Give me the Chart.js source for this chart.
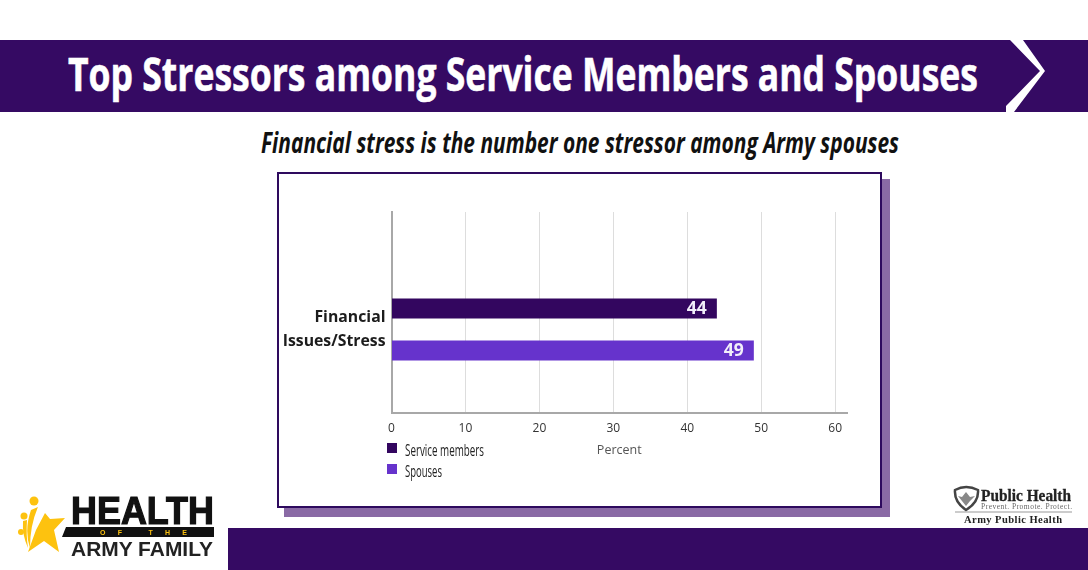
<!DOCTYPE html>
<html>
<head>
<meta charset="utf-8">
<title>Top Stressors among Service Members and Spouses</title>
<script src="https://cdn.jsdelivr.net/npm/chart.js@4/dist/chart.umd.min.js"></script>
<style>
  html, body { margin: 0; padding: 0; background: #fff; }
  #page { position: relative; width: 1088px; height: 570px; overflow: hidden; background: #fff; }
  #banner { position: absolute; left: 0; top: 40px; width: 1088px; height: 72px; background: #350a63; }
  #chevron { position: absolute; left: 0; top: 0; }
  h1 {
    position: absolute; left: 68px; top: 41px; margin: 0; white-space: nowrap;
    font: bold 47px "Open Sans", sans-serif; color: #fff; -webkit-text-stroke: 0.6px #fff;
    transform-origin: left top;
  }
  h2 {
    position: absolute; left: 261px; top: 123px; margin: 0; white-space: nowrap;
    font: italic bold 28px "Open Sans", sans-serif; color: #111;
    transform-origin: left top;
  }
  #shadow { position: absolute; left: 284px; top: 179px; width: 606px; height: 338px; background: #8a6aa5; }
  #card { position: absolute; left: 277px; top: 172px; width: 601px; height: 332px; background: #fff; border: 2px solid #2e0a5e; }
  #chartBox { position: absolute; left: 277px; top: 172px; width: 605px; height: 336px; }
  #legend { position: absolute; left: 387px; top: 440px; font: 15.5px "Open Sans", sans-serif; color: #222; }
  #legend div { position: relative; height: 20.5px; line-height: 20px; white-space: nowrap; }
  #legend span { position: absolute; left: 0; top: 3px; width: 10px; height: 10px; }
  #legend b { position: absolute; left: 18px; top: 0; font-weight: normal; transform-origin: left top; }
  #footer { position: absolute; left: 228px; top: 528px; width: 860px; height: 42px; background: #350a63; }
  #logos { position: absolute; left: 0; top: 0; }
</style>
</head>
<body>
<div id="page">
  <div id="banner"></div>
  <h1 id="title">Top Stressors among Service Members and Spouses</h1>
  <h2 id="subtitle">Financial stress is the number one stressor among Army spouses</h2>
  <div id="shadow"></div>
  <div id="card"></div>
  <div id="chartBox"><canvas id="stressChart"></canvas></div>
  <div id="legend"></div>
  <div id="footer"></div>
  <svg id="chevron" width="1088" height="570">
    <polygon points="1010,40 1023,40 1045,71 1014,112 1006,112 1006,106 1040,71" fill="#fff"/>
  </svg>
  <svg id="logos" width="1088" height="570">
    <!-- Health of the Army Family logo -->
    <polygon points="45,513 50,519 65,518 54,530 59,552 44,541 28,552 36,530" fill="#fdc20f"/>
    <path d="M38,507 Q30,525 30,548 Q24,530 31,510 Z" fill="#fdc20f"/>
    <path d="M27,520 Q26,535 28,548 Q22,535 23,521 Z" fill="#fdc20f"/>
    <circle cx="34" cy="501" r="4.5" fill="#fdc20f"/>
    <circle cx="24" cy="516" r="3.5" fill="#fdc20f"/>
    <circle cx="21" cy="532" r="3" fill="#fdc20f"/>
    <text x="71" y="524" font-family="Liberation Sans, Arial, sans-serif" font-weight="bold" font-size="38" textLength="143" lengthAdjust="spacingAndGlyphs" stroke="#111" stroke-width="1.2" fill="#111">HEALTH</text>
    <polygon points="66,527 214,527 214,537 62,537" fill="#111"/>
    <text x="100" y="535" font-family="Liberation Sans, Arial, sans-serif" font-weight="bold" font-size="7" textLength="87" lengthAdjust="spacing" fill="#fdc20f">OF THE</text>
    <text x="71" y="556" font-family="Liberation Sans, Arial, sans-serif" font-weight="bold" font-size="21" textLength="142" lengthAdjust="spacingAndGlyphs" fill="#222">ARMY FAMILY</text>
    <!-- Public Health logo -->
    <path d="M955,490 Q966,484 978,490 Q979,502 966,510 Q954,502 955,490 Z" fill="#fff" stroke="#444" stroke-width="2.5"/>
    <path d="M966,492 L970,497 L975,496 L970,501 L966,506 L962,501 L958,496 L962,497 Z" fill="#888"/>
    <text x="981" y="501" font-family="Liberation Serif, serif" font-weight="bold" font-size="17" textLength="90" lengthAdjust="spacingAndGlyphs" stroke="#222" stroke-width="0.3" fill="#222">Public Health</text>
    <text x="981" y="509" font-family="Liberation Serif, serif" font-size="7.5" textLength="91" lengthAdjust="spacing" fill="#666">Prevent. Promote. Protect.</text>
    <line x1="955" y1="512" x2="1072" y2="512" stroke="#999" stroke-width="1"/>
    <text x="964" y="523" font-family="Liberation Serif, serif" font-weight="bold" font-size="10.5" textLength="98" lengthAdjust="spacing" fill="#222">Army Public Health</text>
  </svg>
</div>

<script>
const categories = [["Financial", "Issues/Stress"]];
const seriesNames = ["Service members", "Spouses"];
const serviceMembers = [44];
const spouses = [49];
const seriesColors = ["#33065f", "#6633cc"];
const xTicks = [0, 10, 20, 30, 40, 50, 60];
const xAxisMax = 61.6;

// the original face is condensed, none is installed, so squeeze to the measured width
function fitWidth(el, width) {
  el.style.transform = `scaleX(${width / el.getBoundingClientRect().width})`;
}

document.getElementById("legend").innerHTML = seriesNames
  .map((n, i) => `<div><span style="background:${seriesColors[i]}"></span><b>${n}</b></div>`)
  .join("");

fitWidth(document.getElementById("title"), 910);
fitWidth(document.getElementById("subtitle"), 638);
const legendWidths = [79, 37];
document.querySelectorAll("#legend b").forEach((el, i) => fitWidth(el, legendWidths[i]));

// numbers inside the end of each bar
const barValues = {
  id: "barValues",
  afterDatasetsDraw(chart) {
    const ctx = chart.ctx;
    ctx.save();
    ctx.font = 'bold 17.5px "Open Sans", sans-serif';
    ctx.fillStyle = "#f2eefa";
    ctx.textAlign = "right";
    ctx.textBaseline = "middle";
    chart.data.datasets.forEach((ds, i) => {
      chart.getDatasetMeta(i).data.forEach((bar, j) => {
        ctx.fillText(ds.data[j], bar.x - 10, bar.y + 1);
      });
    });
    ctx.restore();
  },
};

// bars sit below the middle of the plot, so the axes run on above the band
const extendPlotUp = {
  id: "extendPlotUp",
  afterLayout(chart) {
    chart.chartArea.top -= 34;
    chart.chartArea.height += 34;
    chart.scales.y.top -= 34;
  },
};

new Chart(document.getElementById("stressChart"), {
  type: "bar",
  data: {
    labels: categories,
    datasets: [
      { label: seriesNames[0], data: serviceMembers, backgroundColor: seriesColors[0] },
      { label: seriesNames[1], data: spouses, backgroundColor: seriesColors[1] },
    ],
  },
  options: {
    indexAxis: "y",
    responsive: true,
    maintainAspectRatio: false,
    animation: false,
    layout: { padding: { top: 74, right: 35, left: 0, bottom: 0 } },
    categoryPercentage: 0.503,
    barPercentage: 0.476,
    plugins: {
      legend: { display: false },
      tooltip: { enabled: false },
    },
    scales: {
      x: {
        type: "linear",
        min: 0,
        max: xAxisMax,
        afterBuildTicks: (axis) => { axis.ticks = xTicks.map((v) => ({ value: v })); },
        afterFit: (axis) => { axis.height = 95; },
        grid: { color: "#dddddd", lineWidth: 1, drawTicks: false },
        border: { color: "#a8a8a8", width: 2 },
        ticks: {
          color: "#333",
          padding: 8,
          maxRotation: 0,
          font: { family: '"Open Sans", sans-serif', size: 12 },
        },
        title: {
          display: true,
          text: "Percent",
          color: "#555",
          font: { family: '"Open Sans", sans-serif', size: 12.5 },
          padding: { top: 0, bottom: 50 },
        },
      },
      y: {
        afterFit: (axis) => { axis.width = 114.5; },
        grid: { display: false, drawTicks: false },
        border: { color: "#a8a8a8", width: 2 },
        ticks: {
          color: "#1c1c1c",
          padding: 6,
          font: { family: '"Open Sans", sans-serif', size: 15.8, weight: "bold", lineHeight: 1.52 },
        },
      },
    },
  },
  plugins: [extendPlotUp, barValues],
});
</script>
</body>
</html>
